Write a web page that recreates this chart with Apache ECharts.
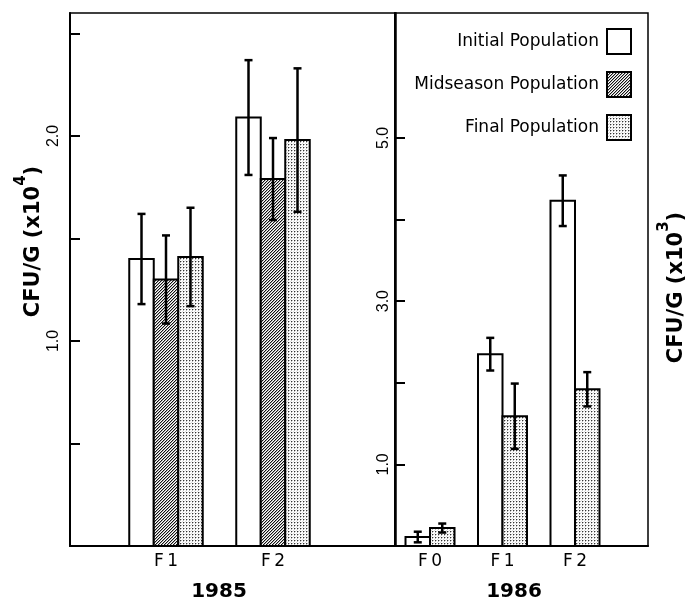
<!DOCTYPE html>
<html><head><meta charset="utf-8">
<script src="https://cdn.jsdelivr.net/npm/echarts@6/dist/echarts.min.js"></script>
<style>html,body{margin:0;padding:0;background:#fff}#c{width:685px;height:602px}</style>
</head><body><div id="c"></div>
<script>
// ---------- data ----------
const seriesNames = ['Initial Population', 'Midseason Population', 'Final Population'];
const categories1985 = ['F1', 'F2'];
const initial1985 = [1.40, 2.09];
const initial1985Err = [0.22, 0.28];
const midseason1985 = [1.30, 1.79];
const midseason1985Err = [0.215, 0.20];
const final1985 = [1.41, 1.98];
const final1985Err = [0.24, 0.35];

const categories1986 = ['F0', 'F1', 'F2'];
const initial1986 = [0.11, 2.35, 4.23];
const initial1986Err = [0.065, 0.20, 0.31];
const final1986 = [0.22, 1.59, 1.92];
const final1986Err = [0.055, 0.40, 0.21];

const ticks1985 = [0.5, 1, 1.5, 2, 2.5];
const tickLabels1985 = [1, 2];
const ticks1986 = [1, 2, 3, 4, 5];
const tickLabels1986 = [1, 3, 5];

// ---------- styles ----------
const BAR_W = 24.5;
const CAP = 4;
function makePattern(kind) {
  const c = document.createElement('canvas');
  const g = c.getContext('2d');
  if (kind === 'hatch') {
    c.width = c.height = 3;
    g.fillStyle = '#fff'; g.fillRect(0, 0, 3, 3);
    for (let x = 0; x < 3; x++) for (let y = 0; y < 3; y++) {
      const k = (x + y) % 3;
      if (k === 0) { g.fillStyle = '#111'; g.fillRect(x, y, 1, 1); }
      else if (k === 1) { g.fillStyle = '#aaa'; g.fillRect(x, y, 1, 1); }
    }
  } else {
    c.width = c.height = 3;
    g.fillStyle = '#fff'; g.fillRect(0, 0, 3, 3);
    g.fillStyle = '#333'; g.fillRect(0, 0, 1, 1);
    g.fillStyle = '#bbb'; g.fillRect(1, 0, 1, 1); g.fillRect(0, 1, 1, 1);
    g.fillStyle = '#ddd'; g.fillRect(2, 2, 1, 1);
  }
  return { image: c, repeat: 'repeat' };
}
const fills = ['#ffffff', makePattern('hatch'), makePattern('stipple')];

function barRenderer(offsetPx, fill) {
  return function (params, api) {
    const x = api.value(0), v = api.value(1), e = api.value(2);
    const base = api.coord([x, 0]);
    const top = api.coord([x, v]);
    const hi = api.coord([x, v + e]);
    const lo = api.coord([x, v - e]);
    const cx = base[0] + offsetPx;
    const ls = { stroke: '#000', lineWidth: 2.5 };
    return {
      type: 'group', children: [
        { type: 'rect', shape: { x: cx - BAR_W / 2, y: top[1], width: BAR_W, height: base[1] - top[1] },
          style: { fill: fill, stroke: '#000', lineWidth: 2 } },
        { type: 'line', shape: { x1: cx, y1: hi[1], x2: cx, y2: lo[1] }, style: ls },
        { type: 'line', shape: { x1: cx - CAP, y1: hi[1], x2: cx + CAP, y2: hi[1] }, style: ls },
        { type: 'line', shape: { x1: cx - CAP, y1: lo[1], x2: cx + CAP, y2: lo[1] }, style: ls }
      ]
    };
  };
}
function mk(name, gi, vals, errs, offset, fill) {
  return {
    type: 'custom', name: name, xAxisIndex: gi, yAxisIndex: gi,
    coordinateSystem: 'cartesian2d',
    itemStyle: { color: fill, borderColor: '#000', borderWidth: 2 },
    encode: { x: 0, y: 1 },
    data: vals.map((v, i) => [i + 1, v, errs[i]]),
    renderItem: barRenderer(offset, fill),
    silent: true
  };
}
const spaced = s => s.split('').join('\u2009');
const blk = '#000';
const titleRich = {
  m: { fontSize: 21, fontWeight: 'bold', fontFamily: 'DejaVu Sans', color: blk, lineHeight: 30, verticalAlign: 'bottom' },
  s: { fontSize: 15, fontWeight: 'bold', fontFamily: 'DejaVu Sans', color: blk, lineHeight: 15, verticalAlign: 'top' }
};

const chart = echarts.init(document.getElementById('c'), null, { renderer: 'canvas' });
chart.setOption({
  animation: false,
  backgroundColor: '#fff',
  grid: [
    { left: 70, top: 13, width: 326, height: 533, show: true, borderColor: blk, borderWidth: 1.5, outerBoundsMode: 'none', containLabel: false },
    { left: 395, top: 13, width: 253, height: 533, show: true, borderColor: blk, borderWidth: 1.5, outerBoundsMode: 'none', containLabel: false }
  ],
  legend: {
    orient: 'vertical', align: 'right', right: 48, top: 23,
    itemWidth: 24, itemHeight: 25, itemGap: 16, icon: 'rect', selectedMode: false,
    data: seriesNames,
    itemStyle: { borderColor: blk, borderWidth: 2 },
    textStyle: { fontFamily: 'DejaVu Sans', fontSize: 17, color: blk, padding: [0, 3, 0, 0] }
  },
  xAxis: [
    { gridIndex: 0, type: 'value', min: 0.1028, max: 3.1495,
      axisLine: { show: true, onZero: false, lineStyle: { color: blk, width: 2 } },
      axisTick: { show: false }, splitLine: { show: false },
      axisLabel: { customValues: [1, 2], formatter: v => spaced(categories1985[Math.round(v) - 1] || ''),
        color: blk, fontSize: 17, fontFamily: 'DejaVu Sans', margin: 7 },
      name: '1985', nameLocation: 'middle', nameGap: 36, nameMoveOverlap: false,
      nameTextStyle: { fontSize: 20, fontWeight: 'bold', fontFamily: 'DejaVu Sans', color: blk, padding: [0, 28, 0, 0] } },
    { gridIndex: 1, type: 'value', min: 0.517, max: 4.007,
      axisLine: { show: true, onZero: false, lineStyle: { color: blk, width: 2 } },
      axisTick: { show: false }, splitLine: { show: false },
      axisLabel: { customValues: [1, 2, 3], formatter: v => spaced(categories1986[Math.round(v) - 1] || ''),
        color: blk, fontSize: 17, fontFamily: 'DejaVu Sans', margin: 7 },
      name: '1986', nameLocation: 'middle', nameGap: 36, nameMoveOverlap: false,
      nameTextStyle: { fontSize: 20, fontWeight: 'bold', fontFamily: 'DejaVu Sans', color: blk, padding: [0, 15, 0, 0] } }
  ],
  yAxis: [
    { gridIndex: 0, type: 'value', min: 0, max: 2.6,
      axisLine: { show: true, onZero: false, lineStyle: { color: blk, width: 2 } },
      axisTick: { show: true, inside: true, length: 10, customValues: ticks1985, lineStyle: { color: blk, width: 2 } },
      axisLabel: { customValues: tickLabels1985, formatter: v => v.toFixed(1), rotate: 90,
        fontSize: 16, fontFamily: 'Liberation Sans', color: blk, margin: 8 },
      splitLine: { show: false },
      name: '{m|CFU/G (x10}{s|4}{m|)}', nameLocation: 'middle', nameRotate: 90, nameGap: 26, nameMoveOverlap: false,
      nameTextStyle: { rich: titleRich, padding: [0, 0, 0, 76] } },
    { gridIndex: 1, type: 'value', min: 0, max: 6.53,
      axisLine: { show: true, onZero: false, lineStyle: { color: blk, width: 2 } },
      axisTick: { show: true, inside: true, length: 10, customValues: ticks1986, lineStyle: { color: blk, width: 2 } },
      axisLabel: { customValues: tickLabels1986, formatter: v => v.toFixed(1), rotate: 90,
        fontSize: 16, fontFamily: 'Liberation Sans', color: blk, margin: 3 },
      splitLine: { show: false } },
    { gridIndex: 1, type: 'value', position: 'right', min: 0, max: 1,
      axisLine: { show: false }, axisTick: { show: false }, axisLabel: { show: false }, splitLine: { show: false },
      name: '{m|CFU/G (x10}{s|3}{m|)}', nameLocation: 'middle', nameRotate: 90, nameGap: 9, nameMoveOverlap: false,
      nameTextStyle: { rich: titleRich, padding: [0, 16, 0, 0] } }
  ],
  series: [
    mk(seriesNames[0], 0, initial1985, initial1985Err, -BAR_W, fills[0]),
    mk(seriesNames[1], 0, midseason1985, midseason1985Err, 0, fills[1]),
    mk(seriesNames[2], 0, final1985, final1985Err, BAR_W, fills[2]),
    mk(seriesNames[0], 1, initial1986, initial1986Err, -BAR_W / 2, fills[0]),
    mk(seriesNames[2], 1, final1986, final1986Err, BAR_W / 2, fills[2])
  ]
});
</script></body></html>
